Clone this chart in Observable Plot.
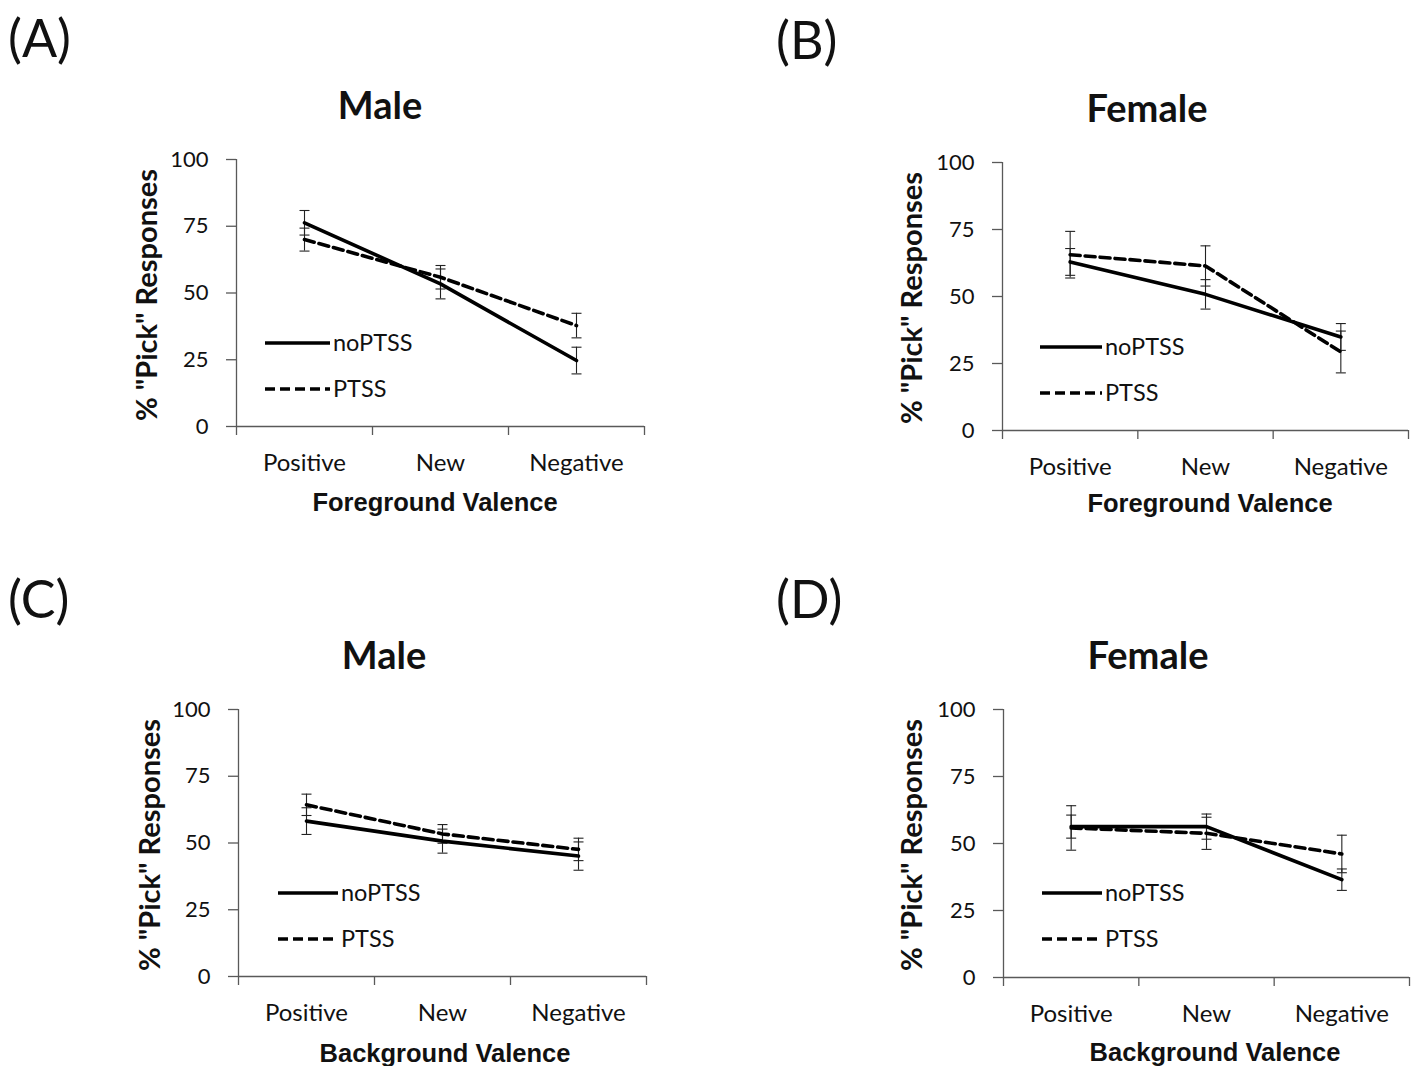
<!DOCTYPE html>
<html><head><meta charset="utf-8">
<script src="https://cdn.jsdelivr.net/npm/d3@7"></script>
<script src="https://cdn.jsdelivr.net/npm/@observablehq/plot@0.6"></script>
<style>
html,body{margin:0;padding:0;background:#fff;}
#root{position:relative;width:1419px;height:1066px;overflow:hidden;background:#fff;}
.abs{position:absolute;white-space:nowrap;}
.c{transform:translate(-50%,-50%);}
.letter{font-family:Lato,sans-serif;font-size:52px;color:#111;transform:translateY(-50%);}
.title{font-family:Lato,sans-serif;font-weight:bold;font-size:38px;color:#111;}
.ylab{font-family:Lato,sans-serif;font-weight:bold;font-size:29px;color:#111;transform:translate(-50%,-50%) rotate(-90deg);}
.xlab{font-family:"Liberation Sans",Arial,sans-serif;font-weight:bold;font-size:25.5px;color:#111;}
svg{max-width:none !important;}
</style></head>
<body><div id="root"></div>
<script>
// ---- data ----
const categories = ["Positive", "New", "Negative"];
const groups = ["noPTSS", "PTSS"];
const yTicks = [0, 25, 50, 75, 100];

// (A) Male, Foreground valence
const maleFgNoPTSS = [76.3, 53.4, 24.7];
const maleFgNoPTSSErr = [4.6, 5.6, 5.0];
const maleFgPTSS = [70.0, 55.9, 37.8];
const maleFgPTSSErr = [4.3, 4.4, 4.6];
// (B) Female, Foreground valence
const femaleFgNoPTSS = [62.9, 50.8, 34.9];
const femaleFgNoPTSSErr = [5.0, 5.5, 5.0];
const femaleFgPTSS = [65.6, 61.4, 29.3];
const femaleFgPTSSErr = [8.7, 7.5, 7.8];
// (C) Male, Background valence
const maleBgNoPTSS = [58.2, 50.7, 45.1];
const maleBgNoPTSSErr = [5.0, 4.5, 5.3];
const maleBgPTSS = [64.3, 53.4, 47.6];
const maleBgPTSSErr = [4.0, 3.5, 4.2];
// (D) Female, Background valence
const femaleBgNoPTSS = [56.3, 56.3, 36.5];
const femaleBgNoPTSSErr = [4.3, 4.7, 4.0];
const femaleBgPTSS = [55.8, 53.8, 46.1];
const femaleBgPTSSErr = [8.3, 6.0, 7.0];

const panels = [
  {letter:"(A)", title:"Male", xlabel:"Foreground Valence", no:maleFgNoPTSS, noErr:maleFgNoPTSSErr, pt:maleFgPTSS, ptErr:maleFgPTSSErr,
   frame:[236,159,408,267], letterPos:[8,37], titlePos:[380,104], ylabPos:[145,295], xlabPos:[435,502], legend:[29,94,184,230]},
  {letter:"(B)", title:"Female", xlabel:"Foreground Valence", no:femaleFgNoPTSS, noErr:femaleFgNoPTSSErr, pt:femaleFgPTSS, ptErr:femaleFgPTSSErr,
   frame:[1002,162,406,268], letterPos:[776,39], titlePos:[1147,107], ylabPos:[910,298], xlabPos:[1210,503], legend:[38,100,185,231]},
  {letter:"(C)", title:"Male", xlabel:"Background Valence", no:maleBgNoPTSS, noErr:maleBgNoPTSSErr, pt:maleBgPTSS, ptErr:maleBgPTSSErr,
   frame:[238,709,408,267], letterPos:[8,598], titlePos:[384,654], ylabPos:[148,845], xlabPos:[445,1053], legend:[40,100,184,230]},
  {letter:"(D)", title:"Female", xlabel:"Background Valence", no:femaleBgNoPTSS, noErr:femaleBgNoPTSSErr, pt:femaleBgPTSS, ptErr:femaleBgPTSSErr,
   frame:[1003,709,406,268], letterPos:[776,598], titlePos:[1148,654], ylabPos:[910,845], xlabPos:[1215,1052], legend:[39,99,184,230]}
];

const root = document.getElementById("root");
const capSymbol = {draw(ctx){ ctx.moveTo(-5,0); ctx.lineTo(5,0); }};
const axisColor = "#595959";

function addText(cls, txt, x, y, extra) {
  const d = document.createElement("div");
  d.className = "abs " + cls;
  d.textContent = txt;
  d.style.left = x + "px";
  d.style.top = y + "px";
  if (extra) Object.assign(d.style, extra);
  root.appendChild(d);
}

for (const p of panels) {
  const [fx, fy, fw, fh] = p.frame;
  const mL = 100, mR = 20, mT = 20, mB = 70;
  const rows = [];
  categories.forEach((c, i) => {
    rows.push({group: groups[0], x: i + 0.5, y: p.no[i], lo: p.no[i] - p.noErr[i], hi: p.no[i] + p.noErr[i]});
    rows.push({group: groups[1], x: i + 0.5, y: p.pt[i], lo: p.pt[i] - p.ptErr[i], hi: p.pt[i] + p.ptErr[i]});
  });
  const noRows = rows.filter(r => r.group === "noPTSS");
  const ptRows = rows.filter(r => r.group === "PTSS");
  const W = fw + mL + mR, H = fh + mT + mB;
  const chart = Plot.plot({
    width: W, height: H,
    marginLeft: mL, marginRight: mR, marginTop: mT, marginBottom: mB,
    x: {domain: [0, categories.length], axis: null},
    y: {domain: [0, 100], axis: null},
    style: {fontFamily: "Lato, sans-serif", fontSize: "22px", color: "#111", background: "transparent", overflow: "visible", maxWidth: "none"},
    marks: [
      Plot.axisY({ticks: yTicks, tickSize: 10, tickPadding: 18, stroke: axisColor, strokeWidth: 1.3, label: null, fontSize: 22}),
      Plot.axisX({ticks: d3.range(categories.length + 1), tickSize: 9, tickFormat: () => "", stroke: axisColor, strokeWidth: 1.3, label: null}),
      Plot.axisX({ticks: categories.map((c, i) => i + 0.5), tickSize: 0, tickPadding: 27, tickFormat: d => categories[Math.floor(d)], label: null, fontSize: 24}),
      Plot.ruleX([0], {stroke: axisColor, strokeWidth: 1.3}),
      Plot.ruleY([0], {stroke: axisColor, strokeWidth: 1.3}),
      Plot.ruleX(rows, {x: "x", y1: "lo", y2: "hi", stroke: "#222", strokeWidth: 1.1}),
      Plot.dot(rows, {x: "x", y: "lo", symbol: capSymbol, r: 5, fill: "none", stroke: "#222", strokeWidth: 1.1}),
      Plot.dot(rows, {x: "x", y: "hi", symbol: capSymbol, r: 5, fill: "none", stroke: "#222", strokeWidth: 1.1}),
      Plot.line(noRows, {x: "x", y: "y", stroke: "#000", strokeWidth: 3.6}),
      Plot.line(ptRows, {x: "x", y: "y", stroke: "#000", strokeWidth: 3.6, strokeDasharray: "10,5"})
    ]
  });
  const wrap = document.createElement("div");
  wrap.className = "abs";
  wrap.style.left = (fx - mL) + "px";
  wrap.style.top = (fy - mT) + "px";
  wrap.style.width = W + "px";
  wrap.style.height = H + "px";
  wrap.appendChild(chart);
  root.appendChild(wrap);

  // legend
  const [lx1, lx2, ly1, ly2] = p.legend;
  const ns = "http://www.w3.org/2000/svg";
  const svg = document.createElementNS(ns, "svg");
  svg.setAttribute("width", 200); svg.setAttribute("height", 80);
  svg.style.position = "absolute";
  svg.style.left = (fx + lx1) + "px";
  svg.style.top = (fy + ly1 - 20) + "px";
  svg.style.overflow = "visible";
  groups.forEach((g, k) => {
    const yy = 20 + (k === 0 ? 0 : ly2 - ly1);
    const ln = document.createElementNS(ns, "line");
    ln.setAttribute("x1", 0); ln.setAttribute("x2", lx2 - lx1);
    ln.setAttribute("y1", yy); ln.setAttribute("y2", yy);
    ln.setAttribute("stroke", "#000"); ln.setAttribute("stroke-width", 3.6);
    if (k === 1) ln.setAttribute("stroke-dasharray", "10,5");
    svg.appendChild(ln);
    const t = document.createElementNS(ns, "text");
    t.setAttribute("x", lx2 - lx1 + 3); t.setAttribute("y", yy);
    t.setAttribute("dy", "0.35em");
    t.setAttribute("font-family", "Lato, sans-serif");
    t.setAttribute("font-size", 23.5);
    t.setAttribute("fill", "#111");
    t.textContent = g;
    svg.appendChild(t);
  });
  root.appendChild(svg);

  addText("letter", p.letter, p.letterPos[0], p.letterPos[1]);
  addText("title c", p.title, p.titlePos[0], p.titlePos[1]);
  addText("ylab", '% "Pick" Responses', p.ylabPos[0], p.ylabPos[1]);
  addText("xlab c", p.xlabel, p.xlabPos[0], p.xlabPos[1]);
}
</script></body></html>
